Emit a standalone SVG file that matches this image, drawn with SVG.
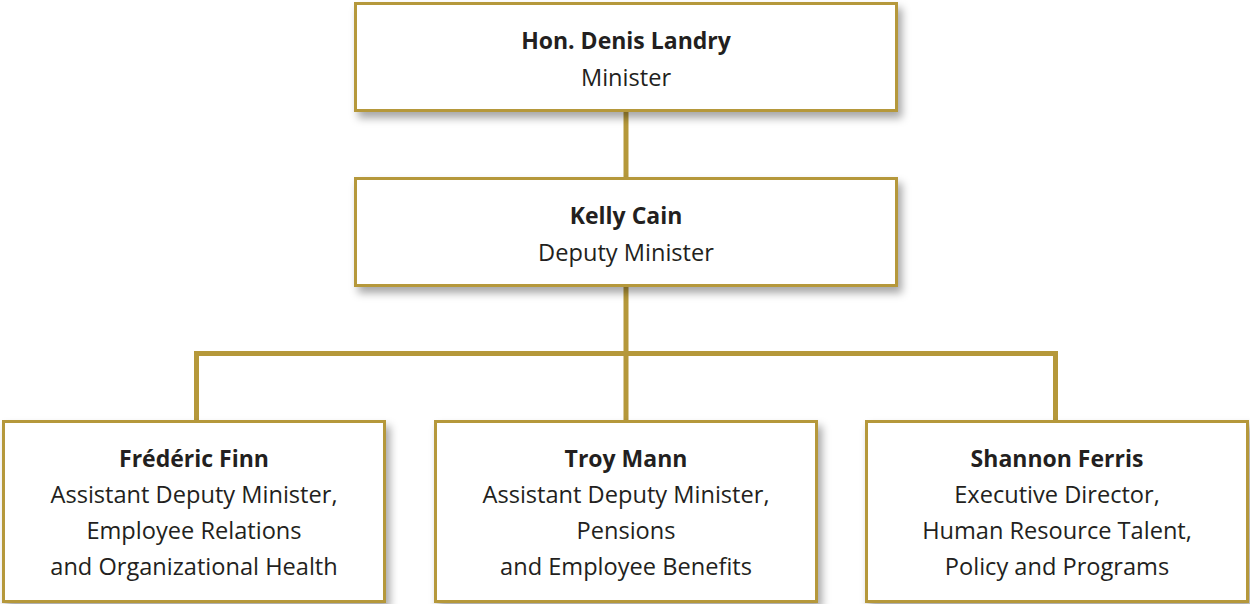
<svg xmlns="http://www.w3.org/2000/svg" width="1250" height="604" viewBox="0 0 1250 604">
<defs>
<filter id="sh" x="-10%" y="-10%" width="125%" height="140%">
<feDropShadow dx="4" dy="6" stdDeviation="4" flood-color="#000" flood-opacity="0.35"/>
</filter>
<style>
.box{fill:#fff;stroke:#b5983a;stroke-width:3;filter:url(#sh)}
.ln{fill:none;stroke:#b5983a;stroke-width:5}
text{font-family:"Open Sans","Liberation Sans",sans-serif;font-size:23.6px;fill:#231f20;text-anchor:middle}
.b{font-weight:bold;font-size:23px}
</style>
</defs>
<g id="connectors">
<line class="ln" x1="626" y1="111" x2="626" y2="178"/>
<line class="ln" x1="626" y1="286" x2="626" y2="420"/>
<polyline class="ln" points="196.5,420 196.5,353.5 1055.5,353.5 1055.5,420"/>
</g>
<g id="n1">
<rect class="box" x="355.5" y="3.5" width="541" height="107"/>
<text class="b" x="626" y="49">Hon. Denis Landry</text>
<text x="626" y="86">Minister</text>
</g>
<g id="n2">
<rect class="box" x="355.5" y="178.5" width="541" height="107"/>
<text class="b" x="626" y="224">Kelly Cain</text>
<text x="626" y="261">Deputy Minister</text>
</g>
<g id="n3">
<rect class="box" x="3.5" y="421.5" width="381" height="180"/>
<text class="b" x="194" y="467">Frédéric Finn</text>
<text x="194" y="503">Assistant Deputy Minister,</text>
<text x="194" y="539">Employee Relations</text>
<text x="194" y="575">and Organizational Health</text>
</g>
<g id="n4">
<rect class="box" x="435.5" y="421.5" width="381" height="180"/>
<text class="b" x="626" y="467">Troy Mann</text>
<text x="626" y="503">Assistant Deputy Minister,</text>
<text x="626" y="539">Pensions</text>
<text x="626" y="575">and Employee Benefits</text>
</g>
<g id="n5">
<rect class="box" x="866.5" y="421.5" width="381" height="180"/>
<text class="b" x="1057" y="467">Shannon Ferris</text>
<text x="1057" y="503">Executive Director,</text>
<text x="1057" y="539">Human Resource Talent,</text>
<text x="1057" y="575">Policy and Programs</text>
</g>
</svg>
